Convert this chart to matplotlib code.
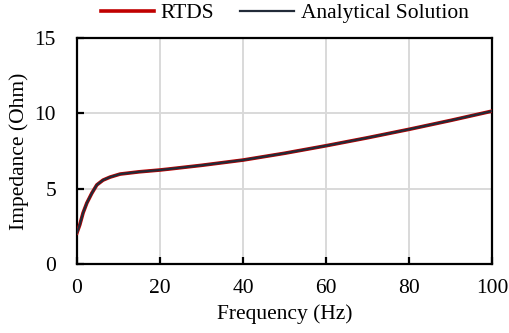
import matplotlib
matplotlib.use('Agg')
import matplotlib.pyplot as plt

plt.rcParams['font.family'] = ['Liberation Serif', 'DejaVu Serif']

# values
freq = [0, 0.7, 1.5, 2.4, 3.6, 4.8, 6.3, 8, 10.4, 15, 20, 22, 30, 40, 50, 60, 70, 80, 90, 100]
z_rtds = [2.06, 2.6, 3.4, 4.05, 4.7, 5.25, 5.57, 5.77, 5.97, 6.12, 6.24, 6.3, 6.55, 6.9, 7.35, 7.85, 8.38, 8.94, 9.53, 10.15]
z_analytic = z_rtds

fig = plt.figure(figsize=(5.09, 3.33), dpi=100)
ax = fig.add_axes([0.151, 0.207, 0.816, 0.679])

ax.plot(freq, z_rtds, color='#c00000', lw=2.6, label='RTDS', zorder=3)
ax.plot(freq, z_analytic, color='#222b38', lw=1.6, label='Analytical Solution', zorder=4)

ax.set_xlim(0, 100)
ax.set_ylim(0, 15)
ax.set_xticks([0, 20, 40, 60, 80, 100])
ax.set_yticks([0, 5, 10, 15])
ax.grid(True, color='#d9d9d9', lw=1.4)
ax.set_axisbelow(True)
for s in ax.spines.values():
    s.set_linewidth(1.6)
    s.set_color('black')
ax.tick_params(direction='in', length=5, width=1.6, labelsize=15.5)
ax.tick_params(axis='x', pad=11)
ax.tick_params(axis='y', pad=15)

ax.set_xlabel('Frequency (Hz)', fontsize=15.5, labelpad=4)
ax.set_ylabel('Impedance (Ohm)', fontsize=15.5, labelpad=4)

ax.legend(loc='lower center', bbox_to_anchor=(0.5, 1.065), ncol=2, frameon=False,
          fontsize=15.5, handlelength=2.5, columnspacing=1.2, handletextpad=0.3,
          borderaxespad=0, borderpad=0)

fig.savefig('out.png', dpi=100)
